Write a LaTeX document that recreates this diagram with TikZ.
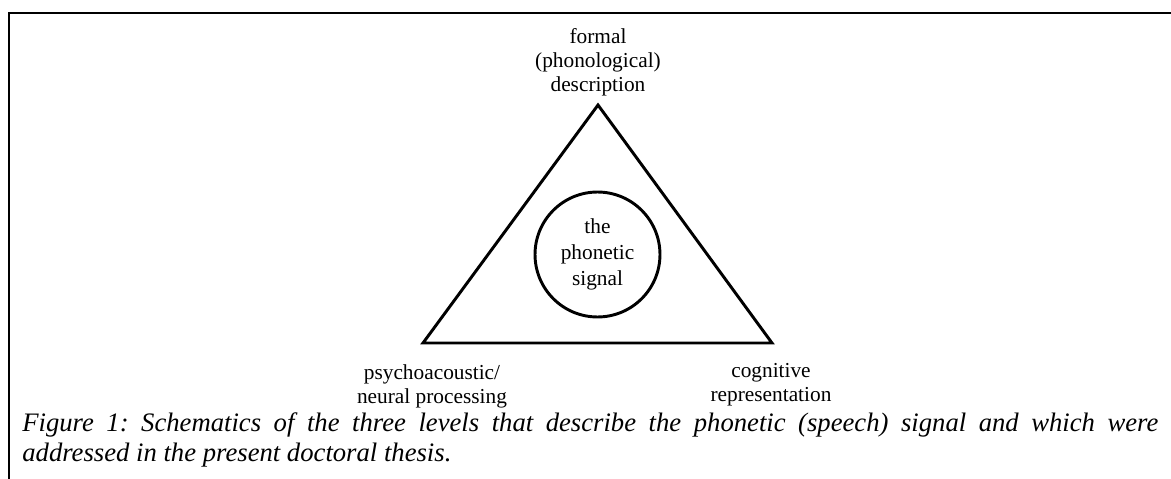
\documentclass[tikz,border=0pt]{standalone}
\usepackage{fontspec}
\setmainfont{Liberation Serif}
\begin{document}
\begin{tikzpicture}[x=0.5625pt,y=-0.5625pt,
  lbl/.style={inner sep=0pt,align=center,font=\fontsize{12}{13.6}\selectfont},
  frameline/.style={line width=1.35pt},
  shapeline/.style={line width=1.65pt,line join=miter}]
\useasboundingbox (0,0) rectangle (1171,479);
% frame
\coordinate (fbl) at (9,480);
\coordinate (ftl) at (9,13);
\coordinate (ftr) at (1172,13);
\draw[frameline] (fbl) -- (ftl) -- (ftr);
% triangle
\coordinate (A) at (598,105);
\coordinate (L) at (423,343);
\coordinate (R) at (772,343);
\draw[shapeline] (A) -- (L) -- (R) -- cycle;
% circle
\node[circle,draw,line width=1.65pt,minimum size=70.3pt,inner sep=0pt,align=center,
  font=\fontsize{12}{14.6}\selectfont] (sig) at (597.5,254.5) {the\\phonetic\\signal};
% labels
\node[lbl] (formal) at (598,62) {formal\\(phonological)\\description};
\node[lbl] (psy) at (432,386) {psychoacoustic/\\neural processing};
\node[lbl] (cog) at (771,385) {cognitive\\representation};
% caption
\node[inner sep=0pt,anchor=north west,text width=639pt,align=justify,
  font=\fontsize{15}{17}\selectfont\itshape\frenchspacing] (cap) at (22,412)
  {Figure 1: Schematics of the three levels that describe the phonetic (speech) signal and which were\linebreak addressed in the present doctoral thesis.};
\end{tikzpicture}
\end{document}
